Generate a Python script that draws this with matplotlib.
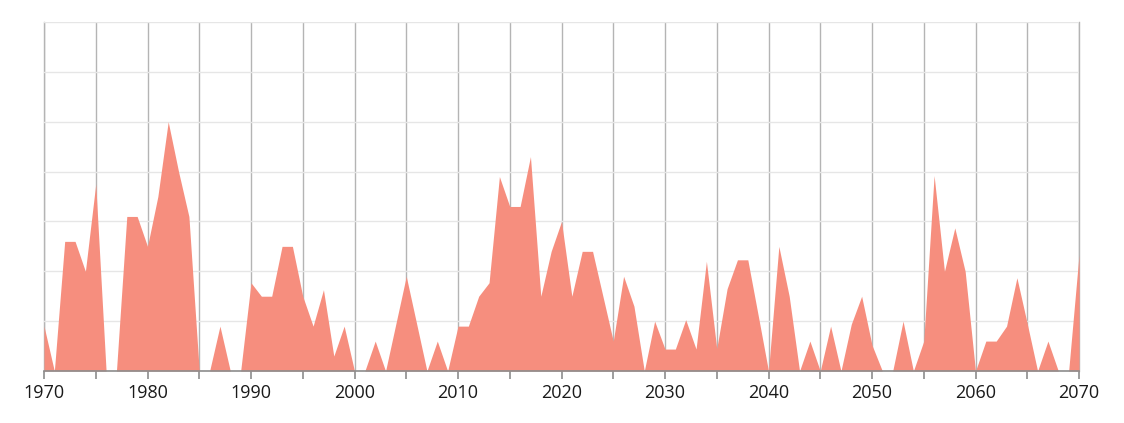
import matplotlib
matplotlib.use("Agg")
import matplotlib.pyplot as plt
import numpy as np

years = list(range(1970, 2071))
values = [
    9, 0, 26, 26, 20, 37.5, 0, 0, 31, 31,          # 1970-1979
    25, 35, 50, 40, 31, 0, 0, 9, 0, 0,             # 1980-1989
    17.7, 15, 15, 25, 25, 15, 9, 16.3, 3, 9,       # 1990-1999
    0, 0, 6, 0, 9.5, 19, 9.5, 0, 6, 0,             # 2000-2009
    9, 9, 15, 17.7, 39, 33, 33, 43, 15, 24,        # 2010-2019
    30, 15, 24, 24, 15, 6, 19, 13, 0, 10,          # 2020-2029
    4.4, 4.4, 10.3, 4.4, 22, 4.5, 16.5, 22.3, 22.3, 11.2,  # 2030-2039
    0, 25, 15, 0, 6, 0, 9, 0, 9.4, 15,             # 2040-2049
    5.2, 0, 0, 10, 0, 6, 39.2, 20, 28.7, 20,       # 2050-2059
    0, 6, 6, 9, 18.7, 9.5, 0, 6, 0, 0,             # 2060-2069
    23.3,                                          # 2070
]
major_ticks = list(range(1970, 2071, 10))

plt.rcParams['font.family'] = ['Open Sans', 'DejaVu Sans']

fig = plt.figure(figsize=(11.24, 4.23), dpi=100)
ax = fig.add_axes([44/1124, 1 - 371/423, (1079 - 44)/1124, (371 - 22)/423])

ax.fill_between(years, values, 0, color='#f68e7e', linewidth=0, zorder=3)

ax.set_xlim(1970, 2070)
ax.set_ylim(0, 70)
ax.set_yticks(np.arange(0, 71, 10))
ax.set_xticks(major_ticks)
ax.set_xticks(range(1975, 2070, 10), minor=True)

ax.grid(axis='y', color='#e6e6e6', linewidth=1, zorder=0)
ax.grid(axis='x', which='both', color='#b4b4b4', linewidth=1, zorder=1)
# edge gridlines would be half clipped, draw them unclipped
for yr in (1970, 2070):
    ax.axvline(yr, color='#b4b4b4', linewidth=1, zorder=1, clip_on=False)

for s in ['top', 'right', 'left']:
    ax.spines[s].set_visible(False)
ax.spines['bottom'].set_color('#8c8c8c')
ax.spines['bottom'].set_linewidth(1.2)
ax.spines['bottom'].set_zorder(4)

ax.tick_params(axis='y', left=False, labelleft=False)
ax.tick_params(axis='x', which='both', direction='out', length=6, color='#8c8c8c', width=1.2)
ax.tick_params(axis='x', labelsize=13, pad=3, labelcolor='#1a1a1a')

fig.savefig('out.png', dpi=100)
